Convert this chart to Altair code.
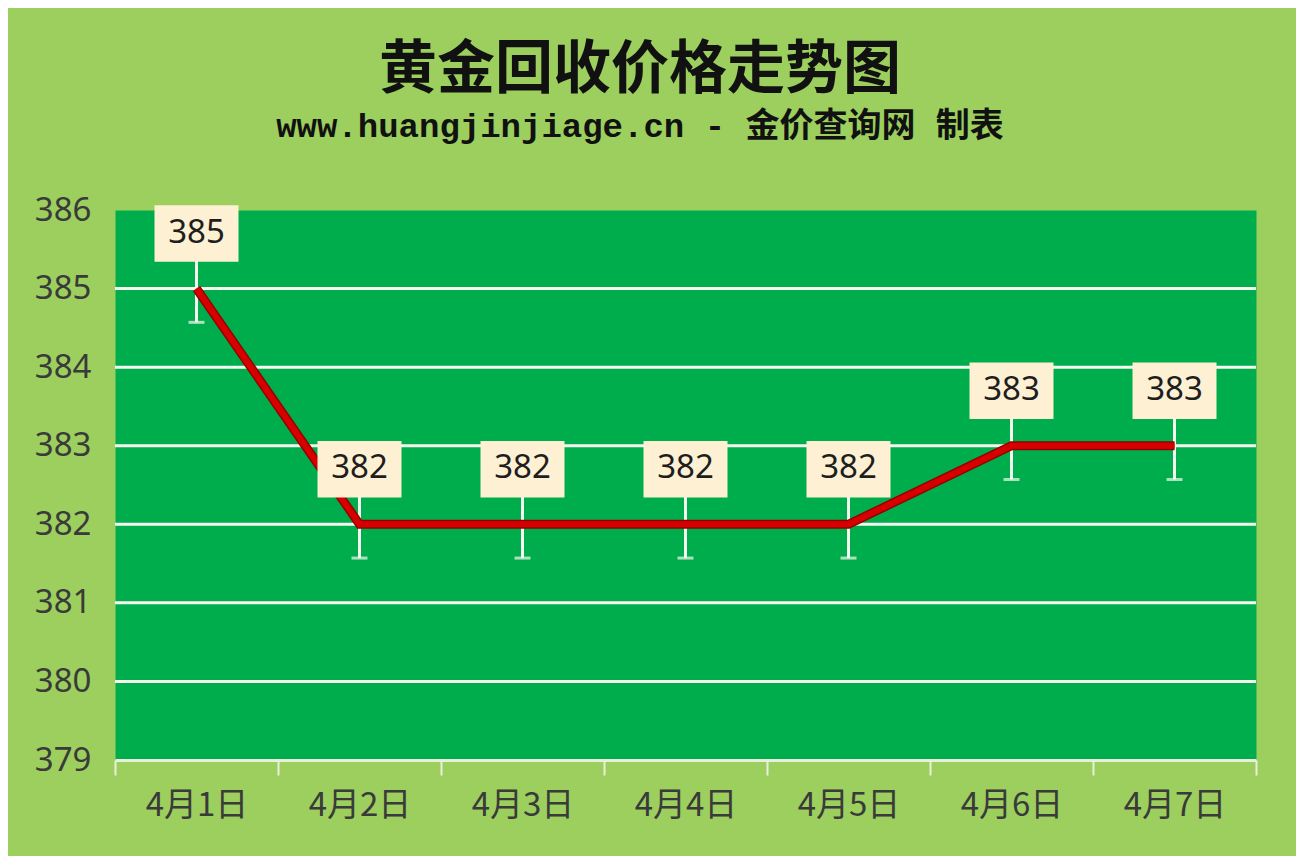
import altair as alt
import pandas as pd

# ---- data ----
dates = ["4月1日", "4月2日", "4月3日", "4月4日", "4月5日", "4月6日", "4月7日"]
prices = [385, 382, 382, 382, 382, 383, 383]
grid_values = [380, 381, 382, 383, 384, 385]
y_ticks = [379, 380, 381, 382, 383, 384, 385, 386]
err = 0.43
title_text = ["黄金回收价格走势图"]
subtitle_text = ["www.huangjinjiage.cn - 金价查询网 制表"]

df = pd.DataFrame({"date": dates, "price": prices})
grid_df = pd.DataFrame({"price": grid_values})

xscale = alt.Scale(domain=dates, paddingInner=0, paddingOuter=0)
yscale = alt.Scale(domain=[379, 386], zero=False, nice=False)

xaxis = alt.Axis(
    title=None, labelAngle=0, labelFontSize=33, labelFont="Noto Sans CJK SC",
    labelColor="#3a3a3a", labelPadding=14, tickBand="extent", ticks=True,
    tickSize=15, tickColor="#e8f0dc", tickWidth=2, domainColor="#e8f0dc",
    domainWidth=3, grid=False,
)
yaxis = alt.Axis(
    title=None, values=y_ticks, labelFontSize=33, labelFont="Noto Sans",
    labelColor="#3a3a3a", labelPadding=24, ticks=False, domain=False, grid=False,
)

def X():
    return alt.X("date:N", sort=dates, scale=xscale, axis=xaxis)

def Y(field="price:Q"):
    return alt.Y(field, scale=yscale, axis=yaxis)

base = alt.Chart(df).transform_calculate(
    lo=f"datum.price - {err}",
    hi=f"datum.price + {err}",
    blo="datum.price + 0.34",
    bhi="datum.price + 1.06",
)

grid = alt.Chart(grid_df).mark_rule(color="#f4f8ee", strokeWidth=3).encode(y=Y())

ebar = base.mark_rule(color="#f4f8ee", strokeWidth=3).encode(x=X(), y=Y("lo:Q"), y2="hi:Q")
ecap = base.mark_tick(color="#f4f8ee", thickness=3, size=16).encode(x=X(), y=Y("lo:Q"))

line_outer = base.mark_line(color="#960000", strokeWidth=9).encode(x=X(), y=Y())
line_inner = base.mark_line(color="#d60000", strokeWidth=6).encode(x=X(), y=Y())

boxes = base.mark_bar(width=84, color="#fdf0d3").encode(x=X(), y=Y("blo:Q"), y2="bhi:Q")
labels = base.mark_text(
    fontSize=33, font="Noto Sans", color="#1e1e1e", baseline="middle", dy=-56
).encode(x=X(), y=Y(), text="price:Q")

title = alt.Chart(pd.DataFrame({"t": title_text})).mark_text(
    fontSize=58, font="Noto Sans CJK SC", fontWeight="bold", color="#111111",
    align="center", baseline="middle",
).encode(x=alt.value(525), y=alt.value(-139), text="t:N")

subtitle = alt.Chart(pd.DataFrame({"t": subtitle_text})).mark_text(
    fontSize=34, font="Liberation Mono, Noto Sans CJK SC", fontWeight="bold",
    color="#111111", align="center", baseline="middle",
).encode(x=alt.value(525), y=alt.value(-83), text="t:N")

chart = alt.layer(
    grid, ebar, ecap, line_outer, line_inner, boxes, labels, title, subtitle
).properties(
    width=1141, height=550,
    autosize=alt.AutoSizeParams(type="none"),
    padding={"left": 107, "top": 202, "right": 40, "bottom": 96},
    background="#9ccf5e",
).configure_view(fill="#00ad4c", stroke="transparent")

chart.save("out.html", embed_options={"renderer": "svg", "actions": False})
